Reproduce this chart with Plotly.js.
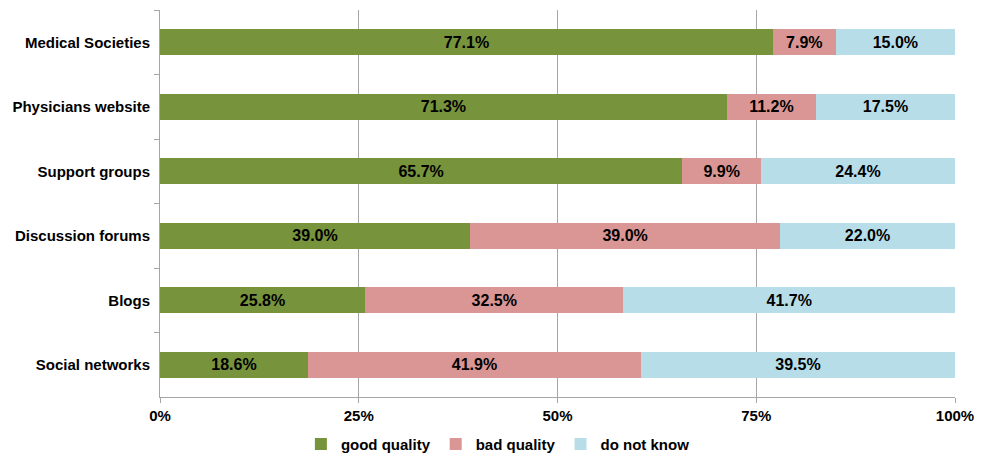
<!DOCTYPE html>
<html>
<head>
<meta charset="utf-8">
<script src="https://cdn.plot.ly/plotly-3.0.1.min.js"></script>
<style>html,body{margin:0;padding:0;background:#fff;}#chart{width:981px;height:456px;}</style>
</head>
<body>
<div id="chart"></div>
<script>
const categories = ["Medical Societies", "Physicians website", "Support groups", "Discussion forums", "Blogs", "Social networks"];
const goodQuality = [77.1, 71.3, 65.7, 39.0, 25.8, 18.6];
const badQuality = [7.9, 11.2, 9.9, 39.0, 32.5, 41.9];
const doNotKnow = [15.0, 17.5, 24.4, 22.0, 41.7, 39.5];
const xTickVals = [0, 25, 50, 75, 100];
const xTickText = ["0%", "25%", "50%", "75%", "100%"];

const fontFam = "Liberation Sans, Arial, sans-serif";
function series(name, vals, color) {
  return {
    type: "bar", orientation: "h", name: name,
    y: categories, x: vals,
    marker: {color: color, line: {width: 0}},
    texttemplate: "%{x:.1f}%", textposition: "inside", insidetextanchor: "middle",
    textfont: {family: fontFam, size: 16, color: "#000", weight: "bold"},
    constraintext: "none",
    hoverinfo: "skip"
  };
}
const data = [
  series("good quality", goodQuality, "#77933C"),
  series("bad quality", badQuality, "#D99694"),
  series("do not know", doNotKnow, "#B7DEE8")
];
const layout = {
  width: 981, height: 456,
  margin: {l: 160, r: 26, t: 10, b: 59, autoexpand: false},
  barmode: "stack", bargap: 0.6,
  paper_bgcolor: "#fff", plot_bgcolor: "#fff",
  font: {family: fontFam, color: "#000"},
  showlegend: true,
  legend: {orientation: "h", x: 0.425, xanchor: "center", y: -0.165, yanchor: "bottom",
           font: {family: fontFam, size: 15, weight: "bold"}, traceorder: "normal",
           itemwidth: 30},
  xaxis: {range: [0, 100], tickvals: xTickVals, ticktext: xTickText,
          showgrid: true, gridcolor: "#A6A6A6", gridwidth: 1,
          showline: true, linecolor: "#A6A6A6", linewidth: 1,
          ticks: "outside", ticklen: 5, tickcolor: "#A6A6A6",
          tickfont: {family: fontFam, size: 15, weight: "bold"},
          zeroline: false, fixedrange: true},
  yaxis: {autorange: "reversed", type: "category",
          showline: true, linecolor: "#A6A6A6", linewidth: 1,
          ticks: "outside", tickson: "boundaries", ticklen: 5, tickcolor: "#A6A6A6",
          tickfont: {family: fontFam, size: 15, weight: "bold"},
          showgrid: false, ticklabelstandoff: 6, fixedrange: true}
};
Plotly.newPlot("chart", data, layout, {staticPlot: true});
</script>
</body>
</html>
